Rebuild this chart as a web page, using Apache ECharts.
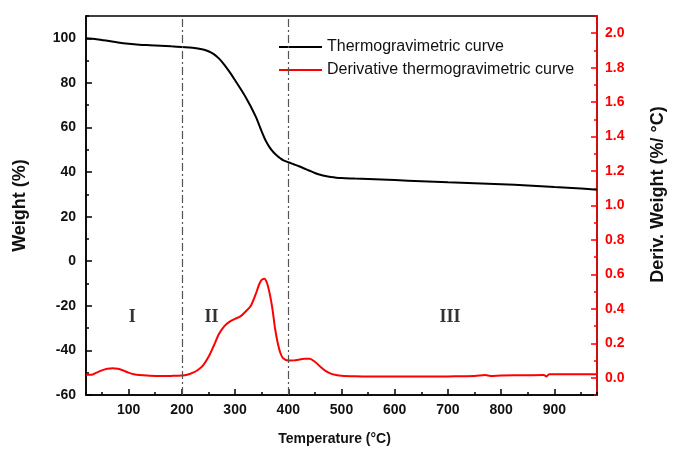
<!DOCTYPE html>
<html>
<head>
<meta charset="utf-8">
<script src="https://cdn.jsdelivr.net/npm/echarts@6/dist/echarts.min.js"></script>
<style>
  html, body { margin: 0; padding: 0; background: #fff; }
  #main { width: 675px; height: 451px; }
</style>
</head>
<body>
<div id="main"></div>
<script>
// TG curve: temperature (°C) -> weight (%)
var tgTemp = [20, 40, 60, 80, 100, 120, 140, 160, 180, 200, 220, 240, 250, 260, 270, 280, 290, 300, 310, 320,
  330, 340, 345, 350, 355, 360, 365, 370, 375, 380, 385, 390, 400, 410, 420, 430, 440, 450, 460, 470,
  480, 490, 500, 525, 550, 600, 650, 700, 750, 800, 850, 900, 950, 980];
var tgWeight = [100, 99.6, 98.9, 98.1, 97.5, 97.1, 96.9, 96.7, 96.4, 96.1, 95.8, 95.0, 94.2, 92.9, 90.9, 88.1, 84.8, 81.2, 77.5, 73.6,
  69.2, 64.3, 61.3, 58.2, 55.4, 53.0, 51.1, 49.5, 48.2, 47.1, 46.2, 45.4, 44.4, 43.5, 42.6, 41.6, 40.6, 39.6, 38.8, 38.2,
  37.8, 37.5, 37.3, 37.1, 36.9, 36.4, 35.9, 35.4, 35.0, 34.5, 34.0, 33.3, 32.6, 32.1];

// DTG curve: temperature (°C) -> deriv. weight (%/°C)
var dtgTemp = [20, 30, 40, 50, 60, 70, 80, 90, 100, 110, 120, 140, 160, 180, 200, 210, 220, 230, 240, 250,
  260, 270, 280, 290, 300, 310, 320, 330, 340, 345, 350, 355, 360, 365, 370, 375, 380, 385, 390, 400,
  410, 420, 430, 440, 450, 460, 470, 480, 490, 500, 525, 550, 600, 650, 700, 750, 770, 780, 800, 850,
  880, 885, 890, 900, 950, 980];
var dtgDeriv = [0.017, 0.017, 0.03, 0.043, 0.052, 0.056, 0.052, 0.042, 0.03, 0.021, 0.016, 0.012, 0.01, 0.011, 0.013, 0.017, 0.028, 0.045, 0.072, 0.12,
  0.186, 0.255, 0.3, 0.326, 0.342, 0.356, 0.385, 0.42, 0.495, 0.54, 0.568, 0.575, 0.55, 0.49, 0.405, 0.29, 0.205, 0.145, 0.115, 0.1,
  0.101, 0.105, 0.11, 0.11, 0.093, 0.065, 0.04, 0.024, 0.016, 0.012, 0.009, 0.008, 0.007, 0.007, 0.008, 0.01, 0.016, 0.011, 0.013, 0.015,
  0.016, 0.008, 0.02, 0.021, 0.021, 0.021];

// stage boundaries and stage labels
var stageLines = [200, 400];
var stageNames = ['I', 'II', 'III'];
var stageX = [107, 256, 704];
var stageY = [-25, -25, -25];

function pairs(xs, ys) {
  var out = [];
  for (var i = 0; i < xs.length; i++) out.push([xs[i], ys[i]]);
  return out;
}

var myChart = echarts.init(document.getElementById('main'));

var labelFont = { fontFamily: 'Liberation Sans', fontWeight: 'bold', fontSize: 14, color: '#111' };

var option = {
  backgroundColor: '#fff',
  animation: false,
  grid: { left: 86, right: 68, top: 16, bottom: 55, show: true, borderColor: '#000', borderWidth: 1.5 },
  legend: {
    orient: 'vertical',
    left: 274,
    top: 34,
    itemWidth: 43,
    itemHeight: 2,
    itemGap: 7,
    icon: 'rect',
    data: ['Thermogravimetric curve', 'Derivative thermogravimetric curve'],
    textStyle: { fontFamily: 'Liberation Sans', fontSize: 16, color: '#111' }
  },
  xAxis: [{
    type: 'value',
    min: 20,
    max: 980,
    splitNumber: 10,
    position: 'bottom',
    name: 'Temperature (°C)',
    nameLocation: 'middle',
    nameGap: 37,
    nameTextStyle: { fontFamily: 'Liberation Sans', fontWeight: 'bold', fontSize: 14, color: '#111', padding: [0, 14, 0, 0] },
    axisLine: { onZero: false, lineStyle: { color: '#000', width: 1.5 } },
    axisTick: { inside: true, length: 6, lineStyle: { color: '#000', width: 1.5 } },
    axisLabel: Object.assign({ margin: 8, showMinLabel: false, showMaxLabel: false }, labelFont),
    splitLine: { show: false }
  }, {
    // minor ticks every 50
    type: 'value',
    min: 20,
    max: 980,
    splitNumber: 20,
    position: 'bottom',
    axisLine: { show: false, onZero: false },
    axisTick: { inside: true, length: 3, lineStyle: { color: '#000', width: 1.5 } },
    axisLabel: { show: false },
    splitLine: { show: false }
  }],
  yAxis: [{
    type: 'value',
    min: -60,
    max: 110,
    interval: 20,
    position: 'left',
    name: 'Weight (%)',
    nameLocation: 'middle',
    nameGap: 57,
    nameTextStyle: { fontFamily: 'Liberation Sans', fontWeight: 'bold', fontSize: 18, color: '#111' },
    axisLine: { show: true, onZero: false, lineStyle: { color: '#000', width: 1.5 } },
    axisTick: { inside: true, length: 6, lineStyle: { color: '#000', width: 1.5 } },
    axisLabel: Object.assign({ margin: 10, showMaxLabel: false }, labelFont),
    splitLine: { show: false }
  }, {
    // minor ticks every 10
    type: 'value',
    min: -60,
    max: 110,
    interval: 10,
    position: 'left',
    axisLine: { show: false, onZero: false },
    axisTick: { inside: true, length: 3, lineStyle: { color: '#000', width: 1.5 } },
    axisLabel: { show: false },
    splitLine: { show: false }
  }, {
    type: 'value',
    min: -0.1,
    max: 2.1,
    splitNumber: 11,
    position: 'right',
    name: 'Deriv. Weight (%/ °C)',
    nameLocation: 'middle',
    nameGap: 52,
    nameTextStyle: { fontFamily: 'Liberation Sans', fontWeight: 'bold', fontSize: 18, color: '#111', padding: [0, 0, 0, 22] },
    axisLine: { show: true, onZero: false, lineStyle: { color: '#ff0000', width: 1.5 } },
    axisTick: { inside: true, length: 6, lineStyle: { color: '#ff0000', width: 1.5 } },
    axisLabel: {
      margin: 8, showMinLabel: false, showMaxLabel: false,
      fontFamily: 'Liberation Sans', fontWeight: 'bold', fontSize: 14, color: '#ff0000',
      formatter: function (v) { return v.toFixed(1); }
    },
    splitLine: { show: false }
  }, {
    // minor ticks every 0.1
    type: 'value',
    min: -0.1,
    max: 2.1,
    interval: 0.1,
    position: 'right',
    axisLine: { show: false, onZero: false },
    axisTick: { inside: true, length: 3, lineStyle: { color: '#ff0000', width: 1.5 } },
    axisLabel: { show: false },
    splitLine: { show: false }
  }],
  series: [{
    name: 'Thermogravimetric curve',
    type: 'line',
    xAxisIndex: 0,
    yAxisIndex: 0,
    data: pairs(tgTemp, tgWeight),
    smooth: 0.3,
    showSymbol: false,
    lineStyle: { color: '#000', width: 2 },
    itemStyle: { color: '#000' },
    markLine: {
      silent: true,
      symbol: 'none',
      label: { show: false },
      lineStyle: { color: '#555', width: 1.2, type: [8, 3, 2, 3] },
      data: stageLines.map(function (t) { return { xAxis: t }; })
    },
    z: 3
  }, {
    name: 'Derivative thermogravimetric curve',
    type: 'line',
    xAxisIndex: 0,
    yAxisIndex: 2,
    data: pairs(dtgTemp, dtgDeriv),
    smooth: 0.3,
    showSymbol: false,
    lineStyle: { color: '#ff0000', width: 2 },
    itemStyle: { color: '#ff0000' },
    z: 3
  }, {
    name: 'stages',
    type: 'scatter',
    xAxisIndex: 0,
    yAxisIndex: 0,
    symbol: 'circle',
    symbolSize: 2,
    itemStyle: { color: 'rgba(0,0,0,0)' },
    silent: true,
    data: stageNames.map(function (n, i) { return { name: n, value: [stageX[i], stageY[i]] }; }),
    label: {
      show: true,
      position: 'inside',
      formatter: function (p) { return p.name; },
      fontFamily: 'Liberation Serif',
      fontWeight: 'bold',
      fontSize: 18,
      color: '#000'
    }
  }]
};

myChart.setOption(option);
</script>
</body>
</html>
